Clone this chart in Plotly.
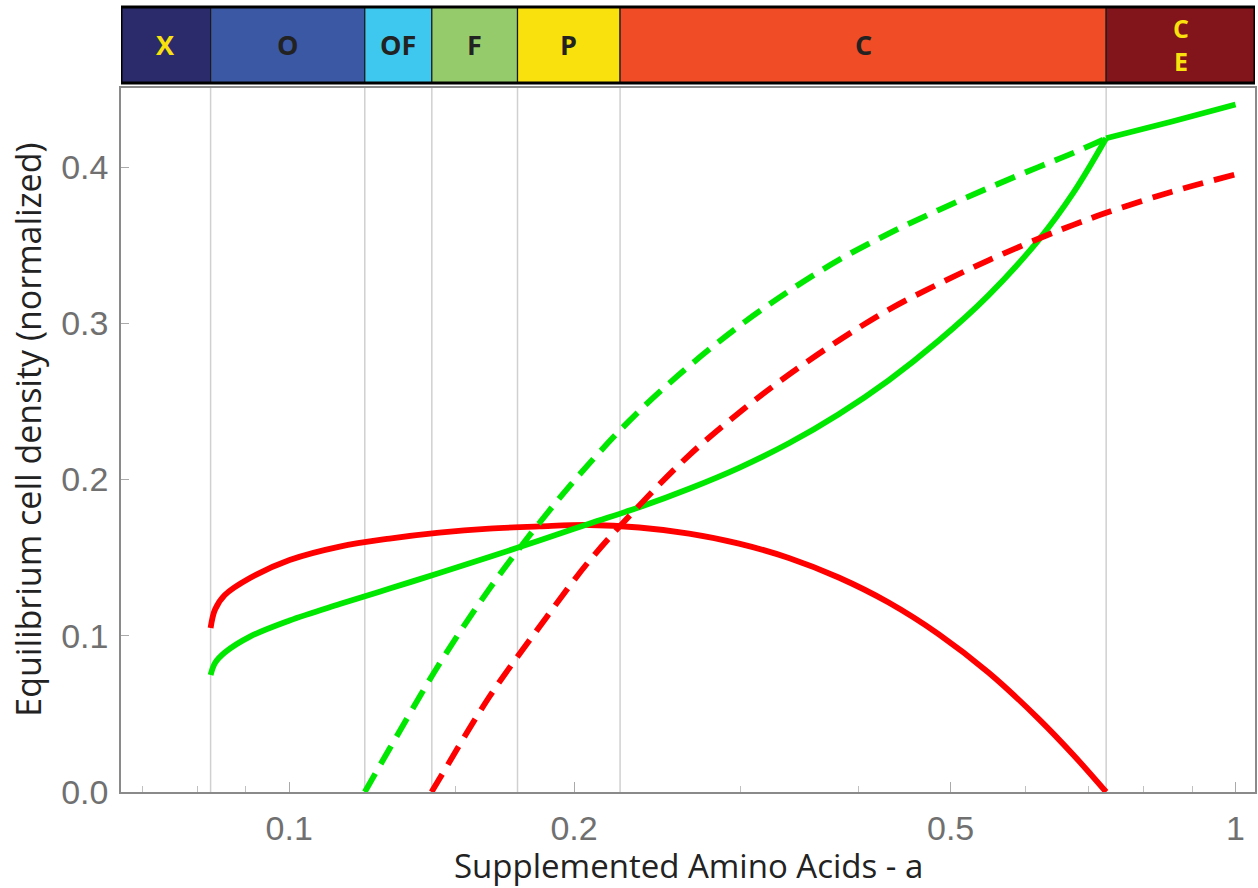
import numpy as np
import plotly.graph_objects as go

# ---------------- data ----------------
# solid red: equilibrium density, red strain
red_solid_a = [0.0826, 0.0835, 0.0855, 0.0909, 0.1001, 0.1131, 0.1277, 0.1441, 0.1627, 0.1838,
               0.2075, 0.2343, 0.2646, 0.2988, 0.3373, 0.3808, 0.4300, 0.4855, 0.5482, 0.6190,
               0.6741, 0.7300]
red_solid_y = [0.1050, 0.1168, 0.1261, 0.1370, 0.1485, 0.1571, 0.1622, 0.1660, 0.1686, 0.1700,
               0.1709, 0.1693, 0.1654, 0.1590, 0.1498, 0.1373, 0.1213, 0.1011, 0.0765, 0.0470,
               0.0237, 0.0]

# solid green: lower branch (up to the C/CE boundary) and upper branch
green_solid_a = [0.0826, 0.0835, 0.0855, 0.0909, 0.1001, 0.1131, 0.1277, 0.1441, 0.1627, 0.1838,
                 0.2075, 0.2343, 0.2646, 0.2988, 0.3373, 0.3808, 0.4300, 0.4855, 0.5482, 0.6190,
                 0.6741, 0.7300]
green_solid_y = [0.0749, 0.0826, 0.0893, 0.0995, 0.1098, 0.1203, 0.1302, 0.1402, 0.1504, 0.1610,
                 0.1717, 0.1822, 0.1941, 0.2075, 0.2232, 0.2418, 0.2635, 0.2888, 0.3179, 0.3531,
                 0.3836, 0.4184]
green_upper_a = [0.7300, 0.8551, 1.0]
green_upper_y = [0.4184, 0.4290, 0.4400]

# dashed green
green_dashed_a = [0.1202, 0.1277, 0.1441, 0.1627, 0.1838, 0.2075, 0.2343, 0.2646, 0.2988, 0.3373,
                  0.3808, 0.4300, 0.4855, 0.5482, 0.6190, 0.6741, 0.7300]
green_dashed_y = [0.0, 0.0278, 0.0819, 0.1299, 0.1722, 0.2102, 0.2438, 0.2726, 0.2982, 0.3206,
                  0.3405, 0.3574, 0.3725, 0.3866, 0.4000, 0.4091, 0.4184]

# dashed red
red_dashed_a = [0.1414, 0.1441, 0.1627, 0.1838, 0.2075, 0.2343, 0.2646, 0.2988, 0.3373, 0.3808,
                0.4300, 0.4855, 0.5482, 0.6190, 0.6741, 0.7300, 0.8551, 1.0]
red_dashed_y = [0.0, 0.0083, 0.0608, 0.1056, 0.1478, 0.1833, 0.2155, 0.2428, 0.2671, 0.2890,
                0.3087, 0.3252, 0.3403, 0.3541, 0.3630, 0.3707, 0.3841, 0.3953]

# phase regions (boundaries along a) and the banner above the plot
region_bounds = [0.0826, 0.1202, 0.1415, 0.1743, 0.2237, 0.7300]
region_labels = ["X", "O", "OF", "F", "P", "C", "C<br>E"]
region_colors = ["#2b2b6c", "#3b58a5", "#3ec8ef", "#96cb6b", "#f8e10c", "#f04c25", "#82141b"]
region_text_colors = ["#f8e10c", "#222222", "#222222", "#222222", "#222222", "#222222", "#f8e10c"]

x_tick_vals = [0.1, 0.2, 0.5, 1]
x_tick_text = ["0.1", "0.2", "0.5", "1"]
x_minor_vals = [0.07, 0.08, 0.09, 0.15, 0.3, 0.4, 0.6, 0.7, 0.8, 0.9]
y_tick_vals = [0.0, 0.1, 0.2, 0.3, 0.4]

x_range_log = [-1.1777, 0.0206]
y_range = [0, 0.4506]

# ---------------- figure ----------------
fig = go.Figure()

LW = 5.8
RED = "#ff0000"
GREEN = "#00e800"
DASH = "21px,11px"


def curve(xs, ys, color, dash="solid"):
    return go.Scatter(x=xs, y=ys, mode="lines", hoverinfo="skip",
                      line=dict(color=color, width=LW, shape="spline", smoothing=1.0,
                                simplify=False, dash=dash))


fig.add_trace(curve(red_solid_a, red_solid_y, RED))
fig.add_trace(curve(green_solid_a, green_solid_y, GREEN))
fig.add_trace(curve(green_upper_a, green_upper_y, GREEN))
fig.add_trace(curve(green_dashed_a, green_dashed_y, GREEN, DASH))
fig.add_trace(curve(red_dashed_a, red_dashed_y, RED, DASH))

shapes = []
# vertical region lines
for b in region_bounds:
    shapes.append(dict(type="line", xref="x", yref="paper", x0=b, x1=b, y0=0, y1=1,
                       line=dict(color="#d0d0d0", width=1.5), layer="below"))

# banner
edges = [10 ** x_range_log[0]] + region_bounds + [10 ** x_range_log[1]]
by0, by1 = 1.0071, 1.1151
for i in range(len(region_labels)):
    shapes.append(dict(type="rect", xref="x", yref="paper", x0=edges[i], x1=edges[i + 1],
                       y0=by0, y1=by1, fillcolor=region_colors[i],
                       line=dict(color="#1a1a1a", width=1.2), layer="above"))
shapes.append(dict(type="rect", xref="x", yref="paper", x0=edges[0], x1=edges[-1],
                   y0=by0, y1=by1, fillcolor="rgba(0,0,0,0)",
                   line=dict(color="#000000", width=3), layer="above"))

annotations = []
for i, lab in enumerate(region_labels):
    c = np.log10(np.sqrt(edges[i] * edges[i + 1]))
    two = "<br>" in lab
    annotations.append(dict(x=c, y=(by0 + by1) / 2, xref="x", yref="paper", text="<b>" + lab + "</b>",
                            showarrow=False, xanchor="center", yanchor="middle",
                            font=dict(family="Open Sans", size=25 if two else 27,
                                      color=region_text_colors[i])))

# axis titles
annotations.append(dict(x=0.5, y=-0.1037, xref="paper", yref="paper",
                        text="Supplemented Amino Acids - a", showarrow=False,
                        xanchor="center", yanchor="middle",
                        font=dict(family="Open Sans", size=33, color="#222222")))
annotations.append(dict(x=-0.0815, y=0.514, xref="paper", yref="paper",
                        text="Equilibrium cell density (normalized)", showarrow=False,
                        xanchor="center", yanchor="middle", textangle=-90,
                        font=dict(family="Open Sans", size=34, color="#222222")))

fig.update_layout(
    width=1258, height=888,
    margin=dict(l=121, r=1, t=88, b=96),
    paper_bgcolor="white", plot_bgcolor="white",
    showlegend=False,
    shapes=shapes, annotations=annotations,
)

fig.update_xaxes(type="log", range=x_range_log,
                 tickvals=x_tick_vals, ticktext=x_tick_text,
                 ticks="inside", ticklen=10, tickwidth=1.2, tickcolor="#aaaaaa",
                 showline=True, linecolor="#8a8a8a", linewidth=1.5, mirror=True,
                 showgrid=False, zeroline=False, ticklabelstandoff=5,
                 tickfont=dict(family="Liberation Sans", size=34, color="#707070"),
                 minor=dict(tickvals=x_minor_vals, ticks="inside", ticklen=6,
                            tickcolor="#c0c0c0", tickwidth=1, showgrid=False))
fig.update_yaxes(range=y_range, tickvals=y_tick_vals, tickformat=".1f",
                 ticks="inside", ticklen=8, tickwidth=1.2, tickcolor="#aaaaaa",
                 showline=True, linecolor="#8a8a8a", linewidth=1.5, mirror=True,
                 showgrid=False, zeroline=False, ticklabelstandoff=4,
                 tickfont=dict(family="Liberation Sans", size=34, color="#707070"))

fig.write_html("out.html")
